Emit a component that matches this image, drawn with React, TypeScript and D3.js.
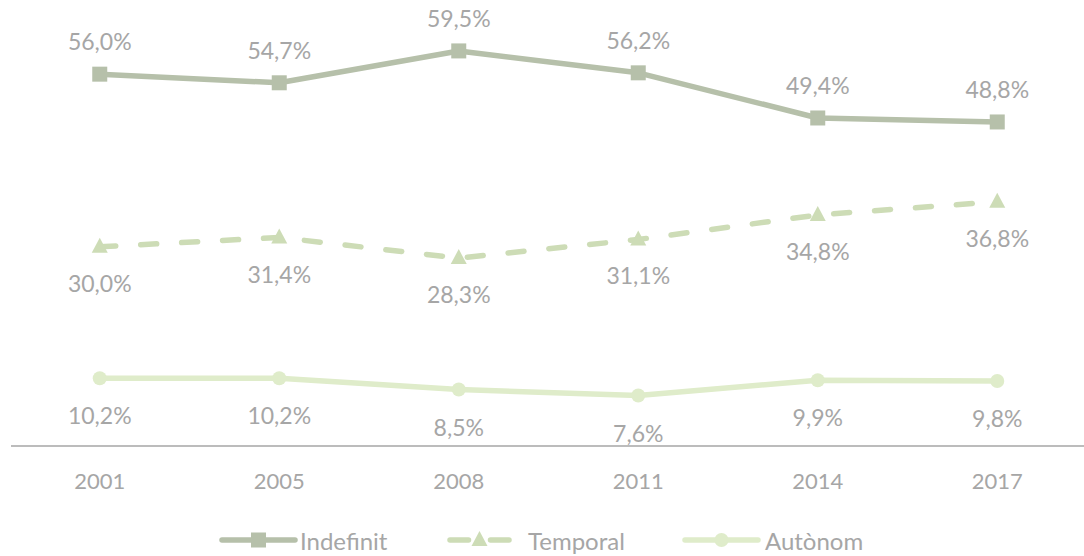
import React from "react";
import * as d3 from "d3";

const years = ["2001", "2005", "2008", "2011", "2014", "2017"];
const indefinit = [56.0, 54.7, 59.5, 56.2, 49.4, 48.8];
const temporal = [30.0, 31.4, 28.3, 31.1, 34.8, 36.8];
const autonom = [10.2, 10.2, 8.5, 7.6, 9.9, 9.8];
const seriesNames = ["Indefinit", "Temporal", "Autònom"];

const W = 1084;
const H = 556;
const FONT = "Lato, 'Open Sans', sans-serif";
const TEXT = "#a6a6a6";
const COLORS = ["#b6c0aa", "#cddcb6", "#dfecca"];

const fmt = (v: number) => v.toFixed(1).replace(".", ",") + "%";

export default function App() {
  const x = d3.scalePoint<string>().domain(years).range([10, 1087]).padding(0.5);
  const y = d3.scaleLinear().domain([0, 60]).range([446, 47.6]);

  const line = d3
    .line<number>()
    .x((d, i) => x(years[i]) as number)
    .y((d) => y(d));

  const square = (cx: number, cy: number, color: string, key?: string) => (
    <rect key={key} x={cx - 7.5} y={cy - 7.5} width={15} height={15} fill={color} />
  );
  const triangle = (cx: number, cy: number, color: string, key?: string) => (
    <path key={key} d={`M${cx},${cy - 9} L${cx + 8},${cy + 6} L${cx - 8},${cy + 6} Z`} fill={color} />
  );
  const circle = (cx: number, cy: number, color: string, key?: string) => (
    <circle key={key} cx={cx} cy={cy} r={7} fill={color} />
  );

  const series = [
    { name: seriesNames[0], data: indefinit, color: COLORS[0], dash: undefined, marker: square, dy: -33 },
    { name: seriesNames[1], data: temporal, color: COLORS[1], dash: "16 25", marker: triangle, dy: 36 },
    { name: seriesNames[2], data: autonom, color: COLORS[2], dash: undefined, marker: circle, dy: 37 },
  ];

  // legend layout
  const legend = [
    { x1: 222, x2: 295, tx: 300 },
    { x1: 447, x2: 512, tx: 528 },
    { x1: 685, x2: 758, tx: 765 },
  ];
  const ly = 540;

  return (
    <svg width={W} height={H} style={{ position: "absolute", left: 0, top: 0 }} fontFamily={FONT}>
      <rect width={W} height={H} fill="#fff" />
      <line x1={11} x2={W} y1={y(0)} y2={y(0)} stroke="#a6a6a6" strokeWidth={1.5} />
      {years.map((yr) => (
        <text key={yr} x={x(yr)} y={480} textAnchor="middle" dominantBaseline="central" fontSize={22} fill={TEXT}>
          {yr}
        </text>
      ))}
      {series.map((s) => (
        <g key={s.name}>
          <path
            d={line(s.data) || ""}
            fill="none"
            stroke={s.color}
            strokeWidth={5.5}
            strokeDasharray={s.dash}
            strokeLinecap={s.dash ? "round" : "butt"}
            strokeLinejoin="round"
          />
          {s.data.map((v, i) => s.marker(x(years[i]) as number, y(v), s.color, s.name + i))}
          {s.data.map((v, i) => (
            <text
              key={"l" + i}
              x={x(years[i])}
              y={y(v) + s.dy}
              textAnchor="middle"
              dominantBaseline="central"
              fontSize={23}
              fill={TEXT}
            >
              {fmt(v)}
            </text>
          ))}
        </g>
      ))}
      {series.map((s, i) => {
        const L = legend[i];
        const mx = (L.x1 + L.x2) / 2;
        return (
          <g key={"leg" + i}>
            {s.dash ? (
              <g stroke={s.color} strokeWidth={5.5} strokeLinecap="round">
                <line x1={L.x1 + 3} x2={mx - 11} y1={ly} y2={ly} />
                <line x1={mx + 11} x2={L.x2 - 3} y1={ly} y2={ly} />
              </g>
            ) : (
              <line x1={L.x1} x2={L.x2} y1={ly} y2={ly} stroke={s.color} strokeWidth={5.5} strokeLinecap="round" />
            )}
            {s.marker(mx, ly, s.color)}
            <text x={L.tx} y={ly} dominantBaseline="central" fontSize={24} fill={TEXT}>
              {s.name}
            </text>
          </g>
        );
      })}
    </svg>
  );
}
